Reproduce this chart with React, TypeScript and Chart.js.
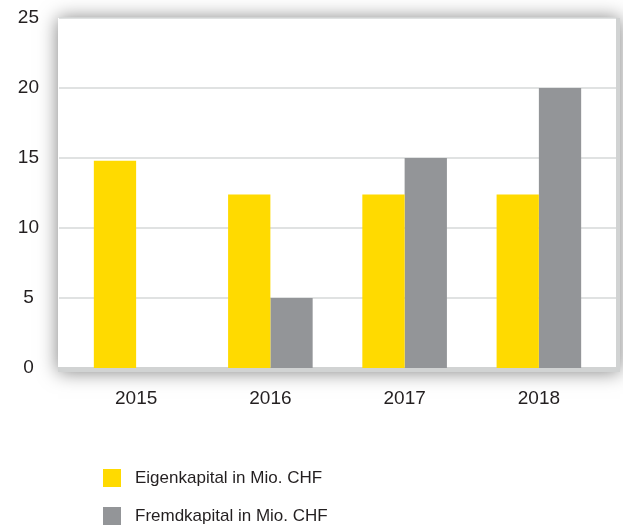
import React, { useEffect, useRef } from 'react';
import { Chart, registerables } from 'chart.js';

Chart.register(...registerables);

const categories = ['2015', '2016', '2017', '2018'];
const eigenkapital = [14.8, 12.4, 12.4, 12.4];
const fremdkapital = [null, 5, 15, 20];
const seriesLabels = ['Eigenkapital in Mio. CHF', 'Fremdkapital in Mio. CHF'];
const seriesColors = ['#FFDA00', '#939598'];
const yTicks = [0, 5, 10, 15, 20, 25];

const FONT = '"Liberation Sans", Arial, sans-serif';

const boxPlugin = {
  id: 'boxPlugin',
  beforeDraw(chart: any) {
    const { ctx, chartArea: ca, scales } = chart;
    const left = ca.left - 11;
    const rightWhite = ca.right + 10;
    const rightGray = ca.right + 14;
    const top = ca.top;
    const bottomWhite = ca.bottom - 1;
    const bottomGray = ca.bottom + 4;
    ctx.save();
    ctx.shadowColor = 'rgba(0,0,0,0.5)';
    ctx.shadowBlur = 18;
    ctx.shadowOffsetX = 0;
    ctx.shadowOffsetY = 0;
    ctx.fillStyle = '#d1d3d3';
    ctx.fillRect(left, top, rightGray - left, bottomGray - top);
    ctx.restore();
    ctx.save();
    ctx.fillStyle = '#ffffff';
    ctx.fillRect(left, top, rightWhite - left, bottomWhite - top);
    ctx.strokeStyle = '#d6d8d8';
    ctx.lineWidth = 1.5;
    for (const v of yTicks) {
      if (v === 0) continue;
      const y = scales.y.getPixelForValue(v);
      ctx.beginPath();
      ctx.moveTo(left + 1, y);
      ctx.lineTo(rightWhite, y);
      ctx.stroke();
    }
    ctx.restore();
  },
  afterDraw(chart: any) {
    const { ctx } = chart;
    ctx.save();
    ctx.font = '17px ' + FONT;
    ctx.textBaseline = 'middle';
    ctx.textAlign = 'left';
    const rows = [478, 516];
    seriesLabels.forEach((label, i) => {
      ctx.fillStyle = seriesColors[i];
      ctx.fillRect(103, rows[i] - 9, 18, 18);
      ctx.fillStyle = '#231f20';
      ctx.fillText(label, 135, rows[i]);
    });
    ctx.restore();
  },
};

export default function App() {
  const ref = useRef<HTMLCanvasElement | null>(null);
  useEffect(() => {
    if (!ref.current) return;
    const chart = new Chart(ref.current, {
      type: 'bar',
      data: {
        labels: categories,
        datasets: [
          {
            label: seriesLabels[0],
            data: eigenkapital,
            backgroundColor: seriesColors[0],
            barPercentage: 1,
            categoryPercentage: 0.63,
          },
          {
            label: seriesLabels[1],
            data: fremdkapital as any,
            backgroundColor: seriesColors[1],
            barPercentage: 1,
            categoryPercentage: 0.63,
          },
        ],
      },
      options: {
        responsive: false,
        animation: false,
        devicePixelRatio: 1,
        layout: { padding: { left: 0, right: 17, top: 18, bottom: 0 } },
        plugins: {
          legend: { display: false },
          tooltip: { enabled: false },
        },
        scales: {
          x: {
            grid: { display: false, drawTicks: false },
            border: { display: false },
            ticks: {
              color: '#231f20',
              font: { family: FONT, size: 19 },
              padding: 19,
              maxRotation: 0,
            },
            afterFit: (s: any) => {
              s.height = 161;
            },
          },
          y: {
            min: 0,
            max: 25,
            grid: { display: false, drawTicks: false },
            border: { display: false },
            ticks: {
              stepSize: 5,
              color: '#231f20',
              font: { family: FONT, size: 19 },
              crossAlign: 'center',
              padding: 30,
            },
            afterFit: (s: any) => {
              s.width = 69;
              s.paddingTop = 0;
              s.paddingBottom = 0;
            },
          },
        },
      },
      plugins: [boxPlugin],
    });
    return () => chart.destroy();
  }, []);
  return (
    <div style={{ position: 'absolute', left: 0, top: 0, width: 623, height: 529, background: '#fff' }}>
      <canvas ref={ref} width={623} height={529} />
    </div>
  );
}
